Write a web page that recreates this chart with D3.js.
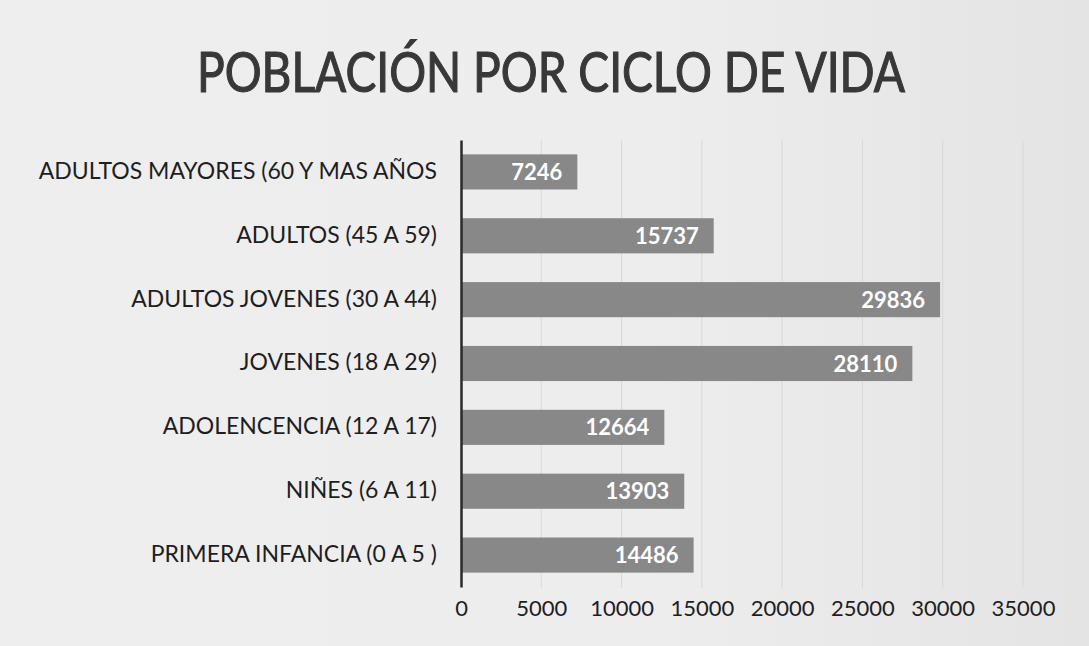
<!DOCTYPE html>
<html>
<head>
<meta charset="utf-8">
<script src="https://cdn.jsdelivr.net/npm/d3@7"></script>
<style>
  html, body { margin: 0; padding: 0; background: #ebebeb; }
  svg { display: block; }
</style>
</head>
<body>
<svg id="chart"></svg>
<script>
// data
var title = "POBLACIÓN POR CICLO DE VIDA";
var categories = [
  "ADULTOS MAYORES (60 Y MAS AÑOS",
  "ADULTOS (45 A 59)",
  "ADULTOS JOVENES (30 A 44)",
  "JOVENES (18 A 29)",
  "ADOLENCENCIA (12 A 17)",
  "NIÑES (6 A 11)",
  "PRIMERA INFANCIA (0 A 5 )"
];
var values = [7246, 15737, 29836, 28110, 12664, 13903, 14486];
var tick_values = [0, 5000, 10000, 15000, 20000, 25000, 30000, 35000];

var w = 1089;
var h = 646;

var bg_color = "#ebebeb";
var bar_color = "#888888";
var text_color = "#1e1e1e";
var grid_color = "#d8d8d8";
var font = "Lato, 'Open Sans', sans-serif";

var svg = d3.select("#chart")
  .attr("width", w)
  .attr("height", h)
  .style("background-color", bg_color);

// soft scan shading
var defs = svg.append("defs");
var grad = defs.append("linearGradient").attr("id", "paper")
  .attr("x1", 0).attr("y1", 0).attr("x2", 1).attr("y2", 0);
grad.append("stop").attr("offset", "0%").attr("stop-color", "#eeeeee");
grad.append("stop").attr("offset", "60%").attr("stop-color", "#ededed");
grad.append("stop").attr("offset", "100%").attr("stop-color", "#e4e4e4");
svg.append("rect").attr("width", w).attr("height", h).attr("fill", "url(#paper)");

var x = d3.scaleLinear()
  .domain([0, 35000])
  .range([461, 1023]);

var y = d3.scaleBand()
  .domain(categories)
  .range([140, 587])
  .paddingInner(0.45)
  .paddingOuter(0.225);

// title
svg.append("text")
  .attr("x", 551)
  .attr("y", 92)
  .attr("text-anchor", "middle")
  .attr("font-family", font)
  .attr("font-size", 56)
  .attr("fill", "#383838")
  .attr("stroke", "#383838")
  .attr("stroke-width", 1.2)
  .attr("textLength", 708)
  .attr("lengthAdjust", "spacingAndGlyphs")
  .text(title);

// faint gridlines
svg.append("g")
  .selectAll("line")
  .data(tick_values.slice(1))
  .join("line")
  .attr("x1", d => x(d)).attr("x2", d => x(d))
  .attr("y1", 140).attr("y2", 588)
  .attr("stroke", grid_color)
  .attr("stroke-width", 1);

// bars
svg.append("g")
  .selectAll("rect")
  .data(values)
  .join("rect")
  .attr("x", x(0))
  .attr("y", (d, i) => y(categories[i]))
  .attr("width", d => x(d) - x(0))
  .attr("height", y.bandwidth())
  .attr("fill", bar_color);

// value labels inside bar ends
svg.append("g")
  .selectAll("text")
  .data(values)
  .join("text")
  .attr("x", d => x(d) - 15)
  .attr("y", (d, i) => y(categories[i]) + y.bandwidth() / 2 + 8)
  .attr("text-anchor", "end")
  .attr("font-family", font)
  .attr("font-weight", "bold")
  .attr("font-size", 22)
  .attr("fill", "#ffffff")
  .text(d => d);

// category axis
var yAxis = svg.append("g")
  .attr("transform", "translate(" + x(0) + ",0)")
  .call(d3.axisLeft(y).tickSize(0).tickPadding(24));
yAxis.select(".domain")
  .attr("stroke", "#2a2a2a")
  .attr("stroke-width", 2.5);
yAxis.selectAll("text")
  .attr("font-family", font)
  .attr("font-size", 23)
  .attr("fill", text_color)
  .attr("dy", "0.3em");

// value axis (labels only)
var xAxis = svg.append("g")
  .attr("transform", "translate(0,588)")
  .call(d3.axisBottom(x).tickValues(tick_values).tickSize(0).tickPadding(12));
xAxis.select(".domain").remove();
xAxis.selectAll("text")
  .attr("font-family", font)
  .attr("font-size", 22)
  .attr("fill", text_color)
  .text(d => d);
</script>
</body>
</html>
